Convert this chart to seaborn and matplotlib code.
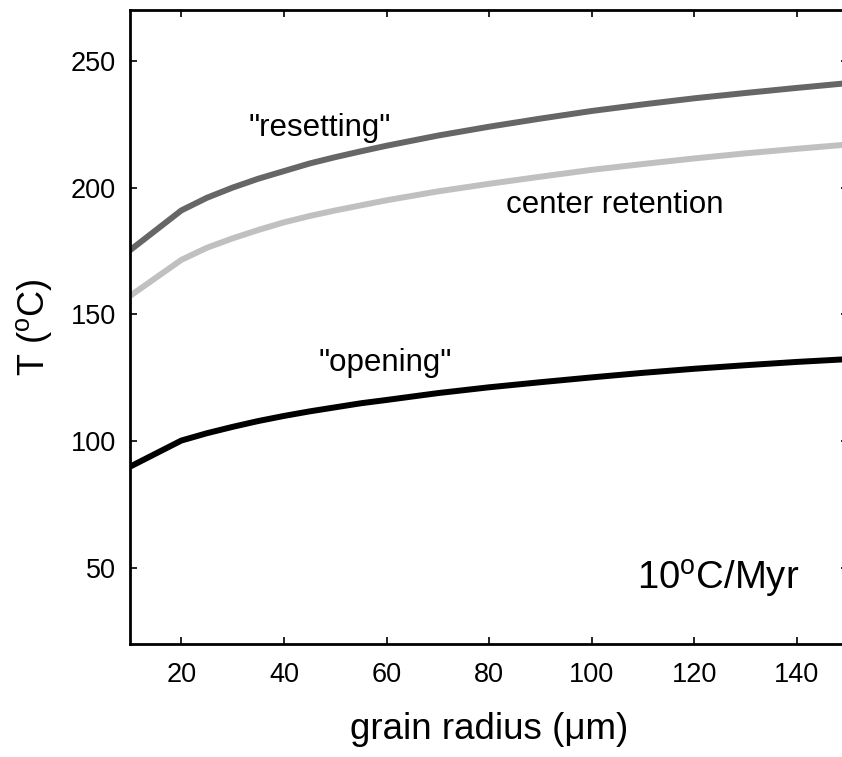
import matplotlib
matplotlib.use("Agg")
import matplotlib.pyplot as plt
import numpy as np
import pandas as pd
import seaborn as sns

# Closure temperatures vs. grain radius for a 10 °C/Myr cooling rate
radius = [10, 20, 25, 30, 35, 40, 45, 50, 55, 60, 70, 80, 90, 100, 110, 120,
          130, 140, 150]
t_resetting = [175.3, 191.0, 196.0, 200.0, 203.5, 206.5, 209.5, 212.0, 214.3,
               216.5, 220.5, 224.0, 227.2, 230.2, 232.8, 235.2, 237.3, 239.3,
               241.2]
t_center = [157.3, 171.5, 176.3, 180.0, 183.3, 186.3, 188.8, 191.0, 193.0,
            195.0, 198.5, 201.5, 204.3, 207.0, 209.3, 211.5, 213.5, 215.3,
            217.0]
t_opening = [90.0, 100.3, 103.2, 105.7, 108.0, 110.0, 111.8, 113.4, 115.0,
             116.3, 119.0, 121.3, 123.3, 125.2, 127.0, 128.6, 130.0, 131.3,
             132.4]

series_names = ["resetting", "center retention", "opening"]
series_colors = ["#666666", "#c0c0c0", "#000000"]

x_ticks = [20, 40, 60, 80, 100, 120, 140]
y_ticks = [50, 100, 150, 200, 250]

df = pd.concat([
    pd.DataFrame({"radius": radius, "T": t_resetting, "curve": "resetting"}),
    pd.DataFrame({"radius": radius, "T": t_center, "curve": "center retention"}),
    pd.DataFrame({"radius": radius, "T": t_opening, "curve": "opening"}),
])

sns.set_theme(style="ticks")
plt.rcParams["font.family"] = ["Liberation Sans", "DejaVu Sans"]
plt.rcParams["mathtext.fontset"] = "custom"
plt.rcParams["mathtext.rm"] = "Liberation Sans"
plt.rcParams["mathtext.it"] = "Liberation Sans:italic"
for key in ["text.color", "axes.labelcolor", "xtick.color", "ytick.color",
            "axes.edgecolor"]:
    plt.rcParams[key] = "black"

W, H = 842, 757
fig = plt.figure(figsize=(W / 100, H / 100), dpi=100)
left, right, top, bottom = 130, 848.3, 10, 644.3
ax = fig.add_axes([left / W, 1 - bottom / H, (right - left) / W, (bottom - top) / H])

sns.lineplot(data=df, x="radius", y="T", hue="curve", hue_order=series_names,
             palette=dict(zip(series_names, series_colors)), linewidth=4.3,
             legend=False, ax=ax, sort=False, estimator=None)
for line in ax.get_lines():
    line.set_solid_capstyle("butt")
    line.set_solid_joinstyle("round")

ax.set_xlim(10, 150)
ax.set_ylim(20, 270)
ax.set_xticks(x_ticks)
ax.set_yticks(y_ticks)
ax.tick_params(axis="both", direction="in", length=5, width=1.2,
               top=True, right=True, labelsize=19.5, colors="black")
ax.tick_params(axis="x", pad=13)
ax.tick_params(axis="y", pad=10)
for sp in ax.spines.values():
    sp.set_linewidth(2.0)
    sp.set_color("black")

ax.set_xlabel("grain radius (\u03bcm)", fontsize=26.5, labelpad=17)
ax.set_ylabel("T ($^{\\mathrm{o}}$C)", fontsize=26, labelpad=12)

ax.text(47, 223.4, '"resetting"', fontsize=22.5, ha="center", va="center")
ax.text(104.4, 193, "center retention", fontsize=22.5, ha="center", va="center")
ax.text(59.7, 130.7, '"opening"', fontsize=22.5, ha="center", va="center")
ax.text(124.7, 45.8, "10$^{\\mathrm{o}}$C/Myr", fontsize=27.5, ha="center", va="center")

fig.savefig("out.png", dpi=100)
